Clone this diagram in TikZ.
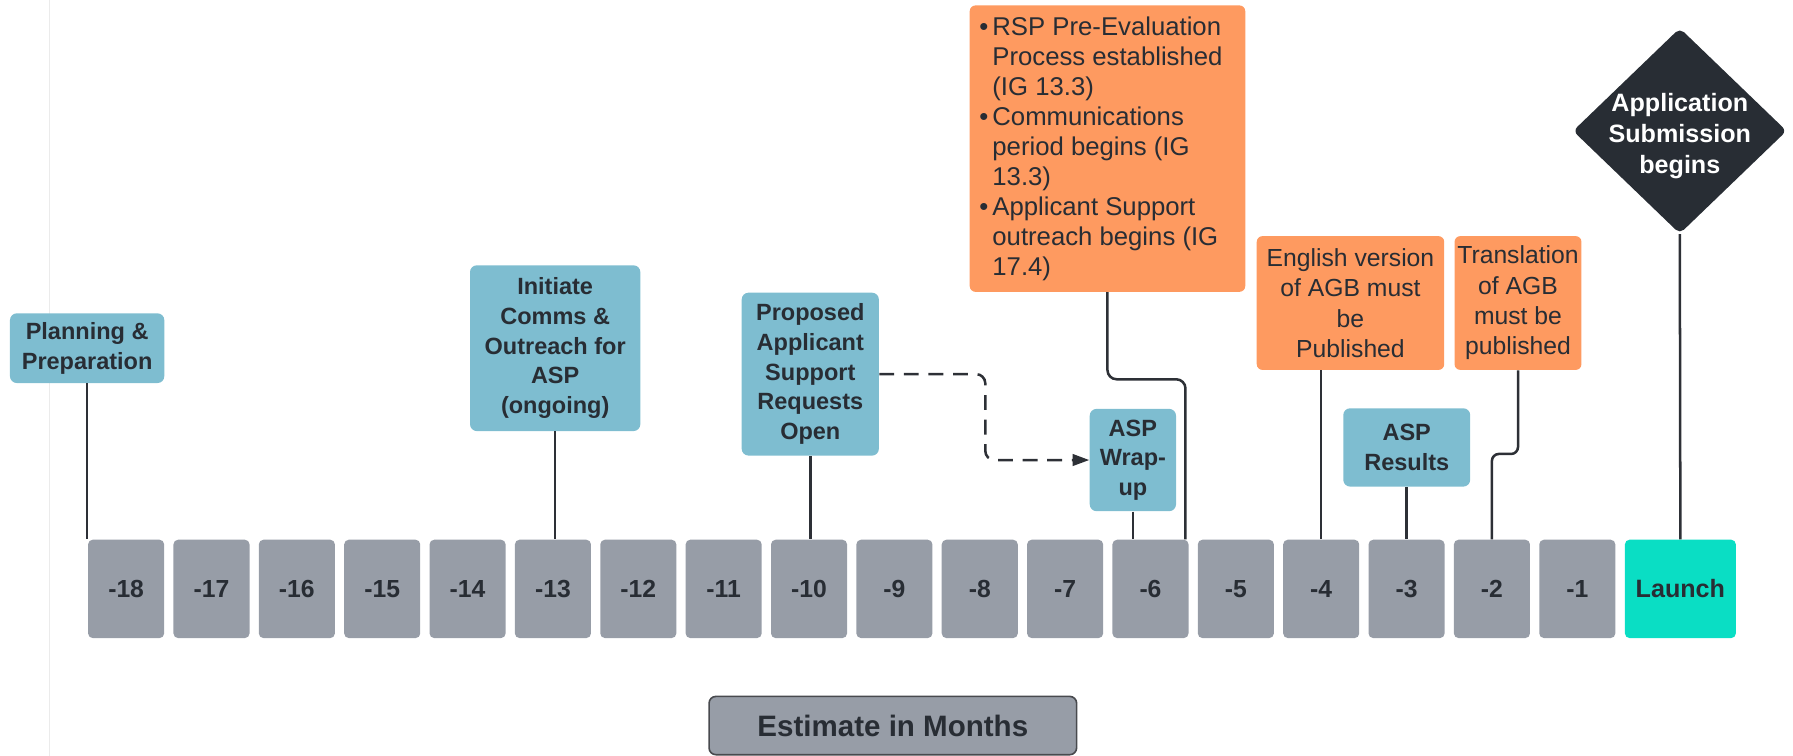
\documentclass[tikz,border=0pt]{standalone}
\usepackage{fontspec}
\setmainfont{Liberation Sans}
\usetikzlibrary{shapes.geometric,arrows.meta}
\definecolor{aspblue}{RGB}{126,189,208}
\definecolor{agborange}{RGB}{254,154,96}
\definecolor{monthgray}{RGB}{151,157,167}
\definecolor{launchteal}{RGB}{10,222,196}
\definecolor{inkdark}{RGB}{40,45,52}
\definecolor{linkdark}{RGB}{45,48,54}
\definecolor{framegray}{RGB}{72,74,78}
\begin{document}
\begin{tikzpicture}[x=0.02cm, y=-0.02cm,
				every node/.style = {align=center, text=inkdark, inner sep=1pt},
				aspbox/.style = {fill=aspblue, rounded corners=0.12cm,
					font=\bfseries\fontsize{11.7}{14.8}\selectfont},
				agbbox/.style = {fill=agborange, rounded corners=0.1cm,
					font=\fontsize{12.3}{15.1}\selectfont},
				monthbox/.style = {fill=monthgray, rounded corners=0.08cm,
					minimum width=1.33cm, minimum height=1.72cm,
					font=\bfseries\fontsize{12.3}{14}\selectfont},
				link/.style = {draw=linkdark, line width=1.25pt},
				dashlink/.style = {link, dash pattern=on 0.26cm off 0.17cm,
					-{Triangle[length=0.29cm, width=0.2cm]}}]
				\useasboundingbox (0,0) rectangle (1568,661);
				\draw[black!8, line width=0.6pt] (43,0) -- (43,661);
				% months before launch
				\foreach \m [count=\i from 0] in {18,17,...,1}
					\node[monthbox] (m\m) at ({110.3+74.65*\i},515) {-\m};
				\node[monthbox, fill=launchteal, minimum width=1.94cm,
					font=\bfseries\fontsize{12.5}{14}\selectfont] (launch) at (1469.5,515) {Launch};
				\node[fill=monthgray, draw=framegray, line width=0.8pt, rounded corners=0.12cm,
					minimum width=6.43cm, minimum height=1.02cm,
					font=\bfseries\fontsize{14.7}{16}\selectfont] (estimate) at (780.8,634.5) {Estimate in Months};
				% milestones
				\node[aspbox, minimum width=2.7cm, minimum height=1.22cm] (plan) at (76.2,304.5) {Planning \&\\Preparation};
				\node[aspbox, minimum width=2.98cm, minimum height=2.9cm] (init) at (485.5,304.5) {Initiate\\Comms \&\\Outreach for\\ASP\\(ongoing)};
				\node[aspbox, minimum width=2.4cm, minimum height=2.85cm] (prop) at (708.6,327.2) {Proposed\\Applicant\\Support\\Requests\\Open};
				\node[aspbox, minimum width=1.51cm, minimum height=1.79cm] (wrap) at (990.7,402.3) {ASP\\Wrap-\\up};
				\node[aspbox, minimum width=2.22cm, minimum height=1.37cm] (res) at (1230.2,391.3) {ASP\\Results};
				\node[agbbox, minimum width=3.28cm, minimum height=2.34cm] (eng) at (1181,265) {English version\\of AGB must\\be\\Published};
				\node[agbbox, minimum width=2.22cm, minimum height=2.34cm] (trans) at (1327.5,265) {Translation\\of AGB\\must be\\published};
				\node[agbbox, align=left, minimum width=4.82cm, minimum height=5.01cm,
					font=\fontsize{12.8}{14.9}\selectfont] (rsp) at (968.5,130)
					{\llap{\textbullet\hspace{2pt}}RSP Pre-Evaluation\\Process established\\(IG 13.3)\\
					\llap{\textbullet\hspace{2pt}}Communications\\period begins (IG\\13.3)\\
					\llap{\textbullet\hspace{2pt}}Applicant Support\\outreach begins (IG\\17.4)};
				\node[diamond, fill=inkdark, rounded corners=0.1cm, inner sep=0pt,
					minimum width=3.74cm, minimum height=3.6cm] (subm) at (1469,114.5) {};
				\node[text=white, font=\bfseries\fontsize{12.5}{15.3}\selectfont] (submtext) at (1469,119) {Application\\Submission\\begins};
				% connectors
				\draw[link] (plan.south) -- (plan.south |- m18.north);
				\draw[link] (init.south) -- (init.south |- m13.north);
				\draw[link] (prop.south) -- (prop.south |- m10.north);
				\draw[link] (wrap.south) -- (wrap.south |- m6.north);
				\draw[link, rounded corners=0.16cm] (rsp.south) -- (rsp.south |- 0,331.7) -| ([xshift=-0.06cm]m6.north east);
				\draw[link] (m4.north |- eng.south) -- (m4.north);
				\draw[link] (res.south) -- (res.south |- m3.north);
				\draw[link, rounded corners=0.12cm] (trans.south) -- (trans.south |- 0,397) -| (m2.north);
				\draw[link] (subm.south) -- (launch.north);
				\draw[dashlink, rounded corners=0.16cm] (prop.east) -- ++(92.7,0) |- (wrap.west);
			\end{tikzpicture}
\end{document}
